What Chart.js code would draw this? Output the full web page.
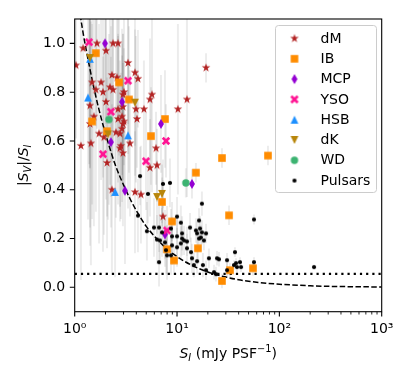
<!DOCTYPE html>
<html>
<head>
<meta charset="utf-8">
<script src="https://cdn.jsdelivr.net/npm/chart.js@4.4.0/dist/chart.umd.min.js"></script>
<style>
  html, body { margin: 0; padding: 0; background: #fff; }
</style>
</head>
<body>
<canvas id="c" width="415" height="377"></canvas>
<script>
// --- datos ---
const dmX = [1.03,1.21,1.65,2.02,2.37,2.65,3.32,3.88,2.31,2.59,4.15,1.48,1.81,2.21,2.37,1.61,1.89,3.03,2.96,5.69,5.44,12.5,19.2,1.41,2.02,3.97,4.75,10.2,2.65,2.96,1.54,2.90,2.65,4.06,3.03,1.41,2.96,2.90,1.73,2.53,2.77,1.93,3.47,1.44,1.15,2.83,2.77,2.96,6.23,2.07,5.44,6.37,2.31,3.88,4.44,7.29];
const dmY = [0.91,0.98,1.00,0.97,1.00,1.00,0.92,0.88,0.87,0.86,0.855,0.84,0.84,0.82,0.81,0.81,0.80,0.80,0.79,0.79,0.77,0.77,0.90,0.745,0.76,0.73,0.73,0.73,0.73,0.74,0.70,0.70,0.69,0.69,0.68,0.67,0.67,0.65,0.63,0.635,0.63,0.615,0.59,0.59,0.58,0.58,0.57,0.55,0.57,0.51,0.49,0.50,0.40,0.39,0.38,0.29];
const dmErr = [0.3,0.4,0.35,0.3,0.4,0.3,0.25,0.3,0.35,0.3,0.2,0.5,0.4,0.4,0.3,0.5,0.35,0.3,0.25,0.4,0.25,0.4,0.06,0.5,0.4,0.3,0.2,0.35,0.3,0.3,0.45,0.3,0.35,0.2,0.3,0.5,0.25,0.3,0.45,0.35,0.3,0.4,0.3,0.5,0.55,0.3,0.3,0.3,0.15,0.35,0.2,0.15,0.35,0.25,0.2,0.15];

const ibX = [1.61,2.71,3.39,1.48,2.07,5.56,7.62,27.5,77.4,15.3,7.13,32.2,8.93,7.98,16.0,9.34,55.2,32.9,27.5];
const ibY = [0.96,0.84,0.77,0.68,0.64,0.62,0.69,0.53,0.54,0.47,0.35,0.295,0.27,0.156,0.16,0.11,0.078,0.07,0.026];
const ibErr = [0.3,0.3,0.3,0.4,0.35,0.2,0.2,0.04,0.04,0.04,0.1,0.04,0.08,0.1,0.05,0.06,0.03,0.03,0.03];

const mcpX = [1.98,2.90,2.26,3.10,6.97,14.0,7.62];
const mcpY = [1.00,0.76,0.595,0.396,0.67,0.424,0.217];
const mcpErr = [0.35,0.3,0.35,0.3,0.2,0.06,0.1];

const ysoX = [1.38,3.32,2.26,1.89,7.80,4.97,7.98];
const ysoY = [1.005,0.847,0.72,0.546,0.60,0.517,0.233];
const ysoErr = [0.5,0.3,0.35,0.4,0.15,0.2,0.1];

const hsbX = [1.41,1.35,3.32,2.48];
const hsbY = [0.937,0.778,0.623,0.391];
const hsbErr = [0.45,0.5,0.3,0.35];

const dkX = [1.41,3.88,2.12,6.37,7.13];
const dkY = [0.94,0.757,0.627,0.37,0.383];
const dkErr = [0.45,0.3,0.35,0.15,0.12];

const wdX = [2.16,12.2];
const wdY = [0.688,0.428];
const wdErr = [0.35,0.06];

const psrX = [4.35,7.29,8.53,5.20,17.5,10.0,4.15,56.5,10.9,16.4,5.95,6.67,8.73,13.4,15.3,16.8,17.5,15.7,17.1,19.2,18.3,16.4,7.13,6.81,7.62,8.93,10.0,11.2,11.2,11.7,12.5,12.5,10.9,8.93,10.0,7.80,7.98,8.73,13.7,14.0,6.67,20.5,24.6,17.9,15.7,14.6,23.0,24.0,19.2,25.7,36.8,30.8,37.7,41.2,42.2,38.5,36.0,30.8,56.5,218,5.08,6.37];
const psrY = [0.456,0.424,0.428,0.383,0.343,0.29,0.294,0.278,0.265,0.274,0.245,0.245,0.241,0.245,0.233,0.241,0.225,0.221,0.204,0.221,0.192,0.20,0.225,0.192,0.184,0.209,0.209,0.221,0.20,0.192,0.188,0.16,0.18,0.172,0.164,0.152,0.131,0.131,0.144,0.119,0.103,0.119,0.119,0.091,0.107,0.091,0.062,0.054,0.07,0.115,0.144,0.111,0.099,0.103,0.083,0.083,0.091,0.07,0.103,0.083,0.23,0.196];
const psrErr = [0.12,0.1,0.1,0.12,0.05,0.08,0.15,0.02,0.07,0.05,0.12,0.1,0.08,0.06,0.05,0.05,0.05,0.05,0.05,0.04,0.04,0.05,0.1,0.1,0.1,0.08,0.08,0.07,0.07,0.06,0.06,0.06,0.07,0.08,0.08,0.1,0.1,0.08,0.06,0.06,0.1,0.04,0.03,0.05,0.05,0.05,0.03,0.03,0.04,0.03,0.02,0.03,0.02,0.02,0.02,0.02,0.02,0.03,0.02,0.01,0.12,0.1];

// curva discontinua y umbral punteado
const curveX = [1.1,1.2,1.3,1.5,1.7,2,2.5,3,3.5,4,5,6,7,8,10,12,15,20,25,30,40,50,70,100,200,400,1000];
const curveY = [1.15,1.05,0.97,0.84,0.74,0.63,0.50,0.42,0.36,0.315,0.25,0.21,0.18,0.157,0.126,0.105,0.084,0.063,0.05,0.042,0.031,0.025,0.018,0.0126,0.0063,0.0031,0.0013];
const limitX = [1, 1000];
const limitY = [0.055, 0.055];

const xMajor = [1, 10, 100, 1000];
const xMinor = [2,3,4,5,6,7,8,9,20,30,40,50,60,70,80,90,200,300,400,500,600,700,800,900];
const yTicks = [0, 0.2, 0.4, 0.6, 0.8, 1.0];
const supDigits = { 0: '\u2070', 1: '\u00b9', 2: '\u00b2', 3: '\u00b3' };

const FONT = '"DejaVu Sans", Verdana, sans-serif';

// --- marcadores estilo matplotlib ---
function markerCanvas(kind, color) {
  const s = 14;
  const c = document.createElement('canvas');
  c.width = s; c.height = s;
  const g = c.getContext('2d');
  g.translate(s / 2, s / 2);
  g.fillStyle = color;
  g.beginPath();
  if (kind === 'star') {
    const R = 4.5, r = R * 0.382;
    for (let i = 0; i < 10; i++) {
      const a = -Math.PI / 2 + i * Math.PI / 5;
      const rr = i % 2 ? r : R;
      g.lineTo(rr * Math.cos(a), rr * Math.sin(a));
    }
  } else if (kind === 'square') {
    g.rect(-3.8, -3.8, 7.6, 7.6);
  } else if (kind === 'thin_diamond') {
    g.moveTo(0, -5); g.lineTo(3, 0); g.lineTo(0, 5); g.lineTo(-3, 0);
  } else if (kind === 'xfilled') {
    g.rotate(Math.PI / 4);
    const a = 4.6, w = 1.35;
    [[-w,-a],[w,-a],[w,-w],[a,-w],[a,w],[w,w],[w,a],[-w,a],[-w,w],[-a,w],[-a,-w],[-w,-w]]
      .forEach(p => g.lineTo(p[0], p[1]));
  } else if (kind === 'tri_up') {
    g.moveTo(0, -3.9); g.lineTo(3.9, 3.9); g.lineTo(-3.9, 3.9);
  } else if (kind === 'tri_down') {
    g.moveTo(0, 3.9); g.lineTo(3.9, -3.9); g.lineTo(-3.9, -3.9);
  } else if (kind === 'circle') {
    g.arc(0, 0, 3.7, 0, Math.PI * 2);
  } else if (kind === 'dot') {
    g.arc(0, 0, 2.1, 0, Math.PI * 2);
  }
  g.closePath();
  g.fill();
  return c;
}

const series = [
  { label: 'dM', xs: dmX, ys: dmY, err: dmErr, marker: markerCanvas('star', '#b22222') },
  { label: 'IB', xs: ibX, ys: ibY, err: ibErr, marker: markerCanvas('square', '#ff8c00') },
  { label: 'MCP', xs: mcpX, ys: mcpY, err: mcpErr, marker: markerCanvas('thin_diamond', '#9400d3') },
  { label: 'YSO', xs: ysoX, ys: ysoY, err: ysoErr, marker: markerCanvas('xfilled', '#ff1493') },
  { label: 'HSB', xs: hsbX, ys: hsbY, err: hsbErr, marker: markerCanvas('tri_up', '#1e90ff') },
  { label: 'dK', xs: dkX, ys: dkY, err: dkErr, marker: markerCanvas('tri_down', '#b8860b') },
  { label: 'WD', xs: wdX, ys: wdY, err: wdErr, marker: markerCanvas('circle', '#3cb371') },
  { label: 'Pulsars', xs: psrX, ys: psrY, err: psrErr, marker: markerCanvas('dot', '#000000') }
];

const datasets = series.map((s, i) => ({
  label: s.label,
  data: s.xs.map((x, j) => ({ x, y: s.ys[j] })),
  errs: s.err,
  pointStyle: s.marker,
  pointRadius: 4,
  pointHoverRadius: 4,
  showLine: false,
  clip: 0,
  order: 20 - i
}));

datasets.push({
  label: 'curve',
  data: curveX.map((x, j) => ({ x, y: curveY[j] })),
  showLine: true,
  borderColor: '#000',
  borderWidth: 1.5,
  borderDash: [5.5, 2.4],
  cubicInterpolationMode: 'monotone',
  pointRadius: 0,
  clip: 0,
  order: 40
});
datasets.push({
  label: 'limit',
  data: limitX.map((x, j) => ({ x, y: limitY[j] })),
  showLine: true,
  borderColor: '#000',
  borderWidth: 2.1,
  borderDash: [2.2, 4.0],
  pointRadius: 0,
  clip: 0,
  order: 41
});

// texto con subindices / superindices estilo mathtext
function drawMath(ctx, parts, x, y, size) {
  let w = 0;
  const items = parts.map(([t, st]) => {
    const small = st.indexOf('sub') >= 0 || st.indexOf('sup') >= 0;
    const fs = small ? size * 0.7 : size;
    const font = (st[0] === 'i' ? 'italic ' : '') + fs + 'px ' + FONT;
    ctx.font = font;
    const tw = ctx.measureText(t).width;
    const dy = st.indexOf('sub') >= 0 ? size * 0.22 : (st.indexOf('sup') >= 0 ? -size * 0.4 : 0);
    const it = { t, font, x: w, dy };
    w += tw;
    return it;
  });
  ctx.textAlign = 'left';
  ctx.textBaseline = 'alphabetic';
  items.forEach(it => {
    ctx.font = it.font;
    ctx.fillText(it.t, x - w / 2 + it.x, y + it.dy);
  });
}

const errorBars = {
  id: 'errorBars',
  beforeDatasetsDraw(chart) {
    const { ctx, chartArea: a, scales: { x, y } } = chart;
    ctx.save();
    ctx.beginPath();
    ctx.rect(a.left, a.top, a.width, a.height);
    ctx.clip();
    ctx.strokeStyle = 'rgba(0,0,0,0.075)';
    ctx.lineWidth = 2;
    chart.data.datasets.forEach(ds => {
      if (!ds.errs) return;
      ds.data.forEach((p, i) => {
        const px = x.getPixelForValue(p.x);
        ctx.beginPath();
        ctx.moveTo(px, y.getPixelForValue(p.y - ds.errs[i]));
        ctx.lineTo(px, y.getPixelForValue(p.y + ds.errs[i]));
        ctx.stroke();
      });
    });
    ctx.restore();
  }
};

const axesDecor = {
  id: 'axesDecor',
  afterDatasetsDraw(chart) {
    const { ctx, chartArea: a, scales: { x, y } } = chart;
    ctx.save();
    ctx.strokeStyle = '#000';
    ctx.setLineDash([]);
    // ticks
    ctx.lineWidth = 1.1;
    ctx.beginPath();
    xMajor.forEach(v => {
      const px = x.getPixelForValue(v);
      ctx.moveTo(px, a.bottom); ctx.lineTo(px, a.bottom + 4.9);
    });
    yTicks.forEach(v => {
      const py = y.getPixelForValue(v);
      ctx.moveTo(a.left, py); ctx.lineTo(a.left - 4.9, py);
    });
    ctx.stroke();
    ctx.lineWidth = 0.85;
    ctx.beginPath();
    xMinor.forEach(v => {
      const px = x.getPixelForValue(v);
      ctx.moveTo(px, a.bottom); ctx.lineTo(px, a.bottom + 2.8);
    });
    ctx.stroke();
    // marco
    ctx.lineWidth = 1.1;
    ctx.strokeRect(a.left, a.top, a.right - a.left, a.bottom - a.top);

    // titulos de ejes
    ctx.fillStyle = '#000';
    drawMath(ctx, [['S', 'i'], ['I', 'isub'], [' (mJy PSF', 'r'], ['\u22121', 'rsup'], [')', 'r']],
      (a.left + a.right) / 2, 358, 14);
    ctx.save();
    ctx.translate(28, (a.top + a.bottom) / 2);
    ctx.rotate(-Math.PI / 2);
    drawMath(ctx, [['|', 'r'], ['S', 'i'], ['V', 'isub'], ['|/', 'r'], ['S', 'i'], ['I', 'isub']], 0, 0, 14);
    ctx.restore();

    // leyenda
    const lx = 275.5, ly = 25.5, lw = 101, lh = 167;
    ctx.fillStyle = 'rgba(255,255,255,0.8)';
    ctx.strokeStyle = '#cccccc';
    ctx.lineWidth = 1;
    ctx.beginPath();
    ctx.roundRect(lx, ly, lw, lh, 3);
    ctx.fill();
    ctx.stroke();
    ctx.fillStyle = '#000';
    ctx.font = '14px ' + FONT;
    ctx.textAlign = 'left';
    ctx.textBaseline = 'middle';
    chart.data.datasets.forEach((ds, i) => {
      if (!ds.errs) return;
      const yy = 38.5 + i * 20.3;
      const m = ds.pointStyle;
      ctx.drawImage(m, 294.5 - m.width / 2, yy - m.height / 2);
      ctx.fillText(ds.label, 320.5, yy + 0.5);
    });
    ctx.restore();
  }
};

new Chart(document.getElementById('c'), {
  type: 'scatter',
  data: { datasets },
  plugins: [errorBars, axesDecor],
  options: {
    responsive: false,
    animation: false,
    events: [],
    layout: { padding: { left: 0, right: 33.3, top: 19, bottom: 0 } },
    plugins: { legend: { display: false }, tooltip: { enabled: false } },
    scales: {
      x: {
        type: 'logarithmic',
        min: 1,
        max: 1000,
        grid: { display: false, drawTicks: true, tickLength: 5 },
        border: { display: false },
        afterBuildTicks: s => { s.ticks = xMajor.map(v => ({ value: v })); },
        afterFit: s => { s.height = 65.3; },
        ticks: {
          autoSkip: false,
          maxRotation: 0,
          padding: 4.5,
          color: '#000',
          font: { family: FONT, size: 14 },
          callback: v => '10' + supDigits[Math.round(Math.log10(v))]
        }
      },
      y: {
        min: -0.1,
        max: 1.1,
        grid: { display: false, drawTicks: true, tickLength: 5 },
        border: { display: false },
        afterBuildTicks: s => { s.ticks = yTicks.map(v => ({ value: v })); },
        afterFit: s => { s.width = 74.7; },
        ticks: {
          autoSkip: false,
          padding: 4.5,
          color: '#000',
          font: { family: FONT, size: 14 },
          callback: v => v.toFixed(1)
        }
      }
    }
  }
});
</script>
</body>
</html>
